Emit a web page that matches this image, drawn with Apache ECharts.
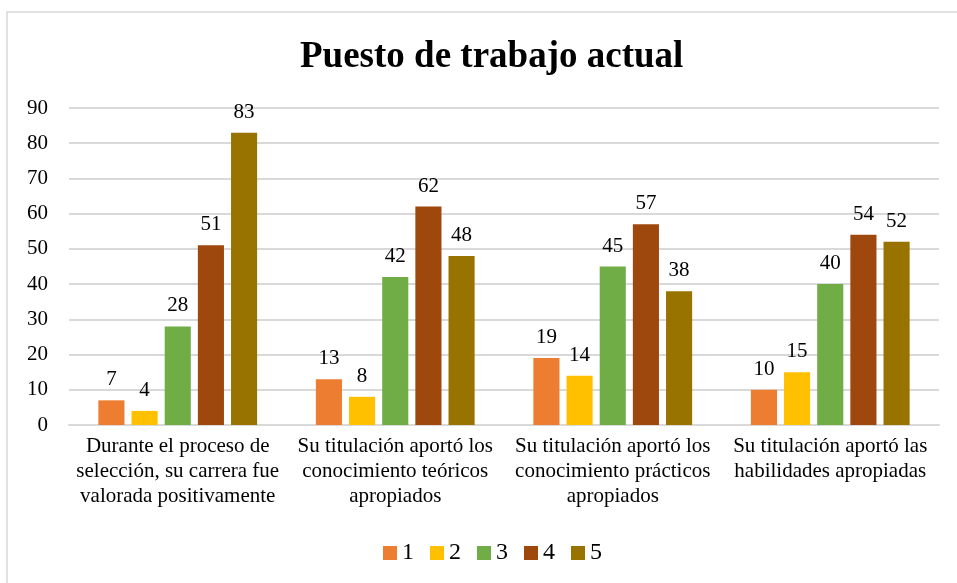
<!DOCTYPE html>
<html>
<head>
<meta charset="utf-8">
<script src="https://cdn.jsdelivr.net/npm/echarts@6/dist/echarts.min.js"></script>
<style>html,body{margin:0;padding:0;background:#fff;}#c{width:957px;height:583px;}</style>
</head>
<body>
<div id="c"></div>
<script>
const categories = [
  "Durante el proceso de\nselección, su carrera fue\nvalorada positivamente",
  "Su titulación aportó los\nconocimiento teóricos\napropiados",
  "Su titulación aportó los\nconocimiento prácticos\napropiados",
  "Su titulación aportó las\nhabilidades apropiadas"
];
const seriesNames = ["1", "2", "3", "4", "5"];
const s1 = [7, 13, 19, 10];
const s2 = [4, 8, 14, 15];
const s3 = [28, 42, 45, 40];
const s4 = [51, 62, 57, 54];
const s5 = [83, 48, 38, 52];
const yTicks = { min: 0, max: 90, interval: 10 };
const colors = ["#ED7D31", "#FFC000", "#70AD47", "#9E480E", "#997300"];

const font = "'Liberation Serif', 'Times New Roman', serif";
const values = [s1, s2, s3, s4, s5];
const chart = echarts.init(document.getElementById('c'));
chart.setOption({
  animation: false,
  textStyle: { fontFamily: font },
  title: {
    text: "Puesto de trabajo actual",
    left: 295, top: 34,
    textStyle: { fontFamily: font, fontWeight: 'bold', fontSize: 37, color: '#000' }
  },
  graphic: [{
    type: 'rect', z: -1, x: 0, y: 0,
    shape: { x: 7, y: 12, width: 970, height: 600 },
    style: { fill: 'none', stroke: '#d9d9d9', lineWidth: 1.5 }
  }],
  legend: {
    top: 536, left: 378,
    itemWidth: 14, itemHeight: 14, itemGap: 16,
    icon: 'rect',
    textStyle: { fontFamily: font, fontSize: 24, color: '#000', padding: [0, 0, 0, 0] },
    data: seriesNames
  },
  grid: { left: 69, right: 18, top: 108, bottom: 158, containLabel: false },
  xAxis: {
    type: 'category', data: categories,
    axisLine: { lineStyle: { color: '#d9d9d9', width: 2 } },
    axisTick: { show: false },
    axisLabel: { fontFamily: font, fontSize: 21, color: '#000', lineHeight: 25, margin: 9, interval: 0 }
  },
  yAxis: {
    type: 'value', min: yTicks.min, max: yTicks.max, interval: yTicks.interval,
    axisLine: { show: false }, axisTick: { show: false },
    splitLine: { lineStyle: { color: '#d9d9d9', width: 2 } },
    axisLabel: { fontFamily: font, fontSize: 21, color: '#000', margin: 21 }
  },
  series: seriesNames.map((n, i) => ({
    name: n, type: 'bar', data: values[i],
    itemStyle: { color: colors[i] },
    barGap: '27%', barCategoryGap: '27%',
    label: { show: true, position: 'top', distance: 10, fontFamily: font, fontSize: 21, color: '#000' }
  }))
});
</script>
</body>
</html>
